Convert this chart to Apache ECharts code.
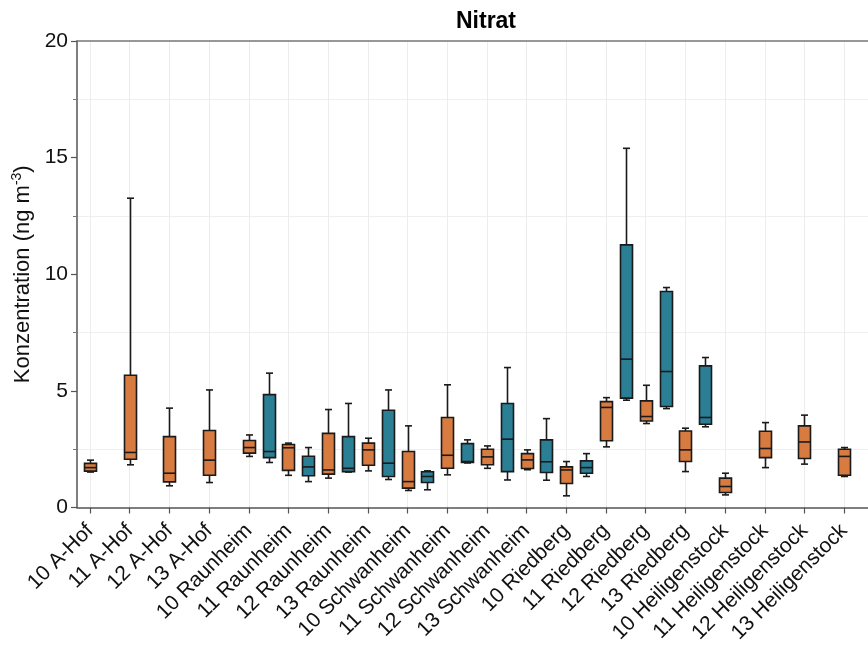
<!DOCTYPE html>
<html>
<head>
<meta charset="utf-8">
<script src="https://cdn.jsdelivr.net/npm/echarts@6/dist/echarts.min.js"></script>
<style>html,body{margin:0;padding:0;background:#fff}#c{width:868px;height:646px}</style>
</head>
<body>
<div id="c"></div>
<script>
// Categories (x tick labels)
const categories = [
  '10 A-Hof','11 A-Hof','12 A-Hof','13 A-Hof',
  '10 Raunheim','11 Raunheim','12 Raunheim','13 Raunheim',
  '10 Schwanheim','11 Schwanheim','12 Schwanheim','13 Schwanheim',
  '10 Riedberg','11 Riedberg','12 Riedberg','13 Riedberg',
  '10 Heiligenstock','11 Heiligenstock','12 Heiligenstock','13 Heiligenstock'
];
// Orange boxes: [min, Q1, median, Q3, max], one per category
const orangeStats = [
  [1.52, 1.56, 1.71, 1.89, 2.03],
  [1.83, 2.07, 2.36, 5.67, 13.26],
  [0.93, 1.10, 1.47, 3.04, 4.26],
  [1.07, 1.38, 2.03, 3.30, 5.04],
  [2.19, 2.33, 2.57, 2.87, 3.11],
  [1.38, 1.59, 2.56, 2.70, 2.76],
  [1.26, 1.43, 1.61, 3.18, 4.20],
  [1.57, 1.81, 2.47, 2.76, 2.97],
  [0.73, 0.83, 1.11, 2.40, 3.50],
  [1.40, 1.68, 2.24, 3.86, 5.26],
  [1.68, 1.83, 2.17, 2.50, 2.64],
  [1.62, 1.67, 2.04, 2.31, 2.47],
  [0.50, 1.03, 1.61, 1.74, 1.97],
  [2.60, 2.86, 4.29, 4.54, 4.71],
  [3.60, 3.71, 3.90, 4.57, 5.24],
  [1.54, 1.97, 2.47, 3.28, 3.40],
  [0.54, 0.64, 0.90, 1.26, 1.47],
  [1.71, 2.14, 2.53, 3.27, 3.64],
  [1.86, 2.10, 2.81, 3.50, 3.96],
  [1.33, 1.38, 2.19, 2.50, 2.57]
];
// Blue boxes: category index they sit after (half-step to the right), and [min, Q1, median, Q3, max]
const blueCategoryIndex = [4, 5, 6, 7, 8, 9, 10, 11, 12, 13, 14, 15];
const blueStats = [
  [1.93, 2.14, 2.40, 4.84, 5.76],
  [1.11, 1.36, 1.74, 2.20, 2.57],
  [1.52, 1.54, 1.68, 3.04, 4.46],
  [1.20, 1.33, 1.90, 4.17, 5.04],
  [0.76, 1.07, 1.33, 1.53, 1.57],
  [1.91, 1.93, 1.97, 2.74, 2.90],
  [1.18, 1.54, 2.93, 4.46, 6.00],
  [1.17, 1.50, 1.96, 2.90, 3.81],
  [1.33, 1.47, 1.71, 2.00, 2.31],
  [4.60, 4.69, 6.36, 11.26, 15.40],
  [4.24, 4.33, 5.83, 9.26, 9.43],
  [3.46, 3.57, 3.86, 6.07, 6.43]
];
const yTicks = [0, 5, 10, 15, 20];

const orangeColor = '#D77B40';
const blueColor = '#2B7F95';

const orangeData = orangeStats.map((s, i) => [i].concat(s));
const blueData = blueStats.map((s, k) => [blueCategoryIndex[k] + 0.5].concat(s));
const tickValues = categories.map((c, i) => i);

function renderBox(params, api) {
  const x = api.value(0);
  const pMin = api.coord([x, api.value(1)]);
  const pQ1 = api.coord([x, api.value(2)]);
  const pMed = api.coord([x, api.value(3)]);
  const pQ3 = api.coord([x, api.value(4)]);
  const pMax = api.coord([x, api.value(5)]);
  const cx = Math.round(pMin[0]) + 0.5;
  const hw = 6, cw = 3.5;
  const color = api.visual('color');
  const ls = {stroke: '#1a1a1a', lineWidth: 1.6};
  return {
    type: 'group',
    children: [
      {type: 'line', shape: {x1: cx, y1: pQ3[1], x2: cx, y2: pMax[1]}, style: ls},
      {type: 'line', shape: {x1: cx, y1: pQ1[1], x2: cx, y2: pMin[1]}, style: ls},
      {type: 'line', shape: {x1: cx - cw, y1: pMax[1], x2: cx + cw, y2: pMax[1]}, style: ls},
      {type: 'line', shape: {x1: cx - cw, y1: pMin[1], x2: cx + cw, y2: pMin[1]}, style: ls},
      {type: 'rect', shape: {x: cx - hw, y: pQ3[1], width: 2 * hw, height: pQ1[1] - pQ3[1]},
        style: {fill: color, stroke: '#1a1a1a', lineWidth: 1.6}},
      {type: 'line', shape: {x1: cx - hw, y1: pMed[1], x2: cx + hw, y2: pMed[1]}, style: ls}
    ]
  };
}

const chart = echarts.init(document.getElementById('c'), null, {renderer: 'canvas'});
const font = 'Liberation Sans, Arial, sans-serif';
chart.setOption({
  animation: false,
  backgroundColor: '#fff',
  textStyle: {fontFamily: font},
  title: {
    text: 'Nitrat', left: 481, top: 5, textAlign: 'center',
    textStyle: {fontFamily: font, fontSize: 23, fontWeight: 'bold', color: '#000'}
  },
  grid: {left: 77, top: 41, right: 0, bottom: 138, containLabel: false},
  xAxis: [{
    type: 'value', min: -0.328, max: 19.6, position: 'bottom',
    axisLine: {show: true, onZero: false, lineStyle: {color: '#555', width: 1.5}},
    axisTick: {show: true, customValues: tickValues, length: 6, lineStyle: {color: '#555', width: 1.2}},
    axisLabel: {
      customValues: tickValues, rotate: 45, margin: 20,
      formatter: v => categories[Math.round(v)] || '',
      fontFamily: font, fontSize: 21, color: '#111'
    },
    splitLine: {show: true, lineStyle: {color: '#ececec', width: 1}}
  }, {
    type: 'value', min: -0.328, max: 19.6, position: 'top',
    axisLine: {show: true, onZero: false, lineStyle: {color: '#777', width: 1.5}},
    axisTick: {show: false}, axisLabel: {show: false}, splitLine: {show: false}
  }],
  yAxis: {
    type: 'value', min: 0, max: 20, interval: 5,
    name: '{a|Konzentration (ng m}{s|-3}{a|)}',
    nameLocation: 'middle', nameGap: 38, nameRotate: 90,
    nameTextStyle: {
      rich: {
        a: {fontFamily: font, fontSize: 22, color: '#111'},
        s: {fontFamily: font, fontSize: 14, color: '#111', padding: [0, 0, 11, 0]}
      }
    },
    axisLine: {show: true, onZero: false, lineStyle: {color: '#555', width: 1.5}},
    axisTick: {show: true, length: 6, lineStyle: {color: '#555', width: 1.2}},
    minorTick: {show: true, splitNumber: 2, length: 4, lineStyle: {color: '#777'}},
    axisLabel: {fontFamily: font, fontSize: 21, color: '#111', margin: 9,
      customValues: yTicks},
    splitLine: {show: false},
    minorSplitLine: {show: true, lineStyle: {color: '#efefef', width: 1.2}}
  },
  series: [{
    type: 'custom', name: 'orange', renderItem: renderBox, data: orangeData,
    encode: {x: 0, y: [1, 2, 3, 4, 5]}, itemStyle: {color: orangeColor}, z: 3
  }, {
    type: 'custom', name: 'blue', renderItem: renderBox, data: blueData,
    encode: {x: 0, y: [1, 2, 3, 4, 5]}, itemStyle: {color: blueColor}, z: 3
  }]
});
</script>
</body>
</html>
